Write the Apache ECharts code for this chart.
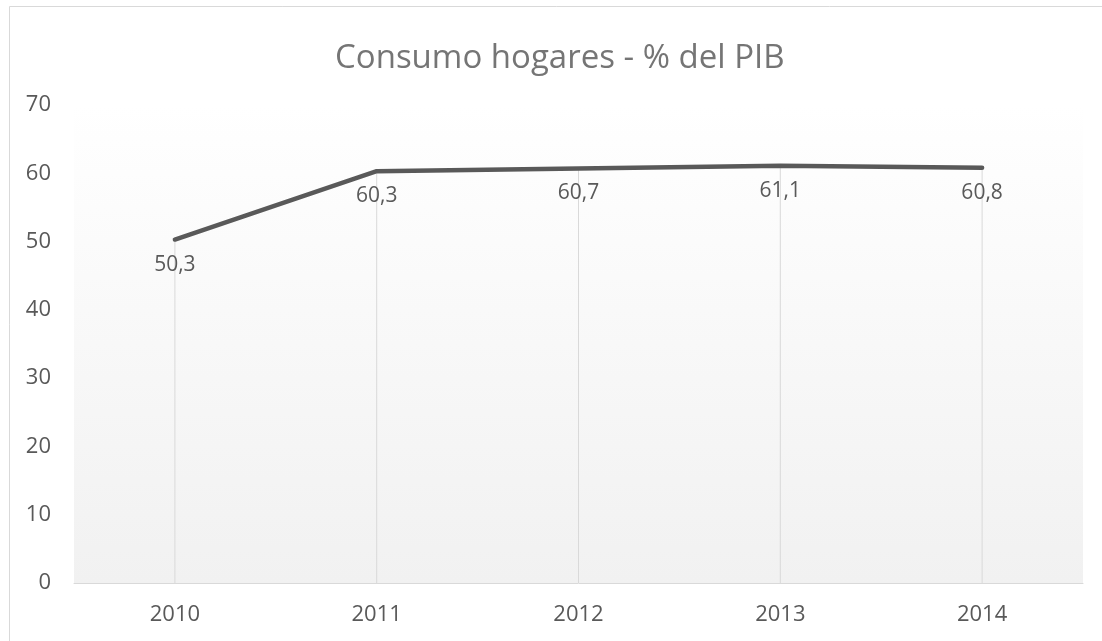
<!DOCTYPE html>
<html>
<head>
<meta charset="utf-8">
<script src="https://cdn.jsdelivr.net/npm/echarts@6/dist/echarts.min.js"></script>
<style>
  html, body { margin: 0; padding: 0; background: #fff; }
  #chart { width: 1102px; height: 641px; }
</style>
</head>
<body>
<div id="chart"></div>
<script>
const years = ["2010", "2011", "2012", "2013", "2014"];
const consumo = [50.3, 60.3, 60.7, 61.1, 60.8];
const yMin = 0;
const yMax = 70;
const yStep = 10;

const fontFam = "'Open Sans', 'Noto Sans', sans-serif";
const txt = "#595959";

const chart = echarts.init(document.getElementById("chart"));

// decimal comma, as in the original
const fmt = (v) => String(v).replace(".", ",");

chart.setOption({
  animation: false,
  backgroundColor: "#ffffff",
  title: {
    text: "Consumo hogares - % del PIB",
    left: 330,
    top: 37,
    textStyle: { fontFamily: fontFam, fontSize: 33, fontWeight: "normal", color: "#757575" },
  },
  graphic: [
    {
      type: "rect",
      shape: { x: 9.5, y: 6.5, width: 1200, height: 700 },
      style: { fill: "none", stroke: "#d9d9d9", lineWidth: 1 },
      silent: true,
    },
  ],
  grid: {
    left: 74,
    right: 19,
    top: 105,
    bottom: 58,
    show: true,
    borderWidth: 0,
    backgroundColor: new echarts.graphic.LinearGradient(0, 0, 0, 1, [
      { offset: 0, color: "#ffffff" },
      { offset: 1, color: "#f1f1f1" },
    ]),
  },
  xAxis: {
    type: "category",
    data: years,
    boundaryGap: true,
    axisLine: { lineStyle: { color: "#d9d9d9", width: 1 } },
    axisTick: { show: false },
    axisLabel: { fontFamily: fontFam, fontSize: 22, color: txt, margin: 21 },
    splitLine: { show: false },
  },
  yAxis: {
    type: "value",
    min: yMin,
    max: yMax,
    interval: yStep,
    axisLine: { show: false },
    axisTick: { show: false },
    splitLine: { show: false },
    axisLabel: { fontFamily: fontFam, fontSize: 22, color: txt, margin: 23 },
  },
  series: [
    {
      // drop lines from each point to the axis
      name: "drop",
      type: "bar",
      data: consumo,
      barWidth: 1,
      itemStyle: { color: "#d9d9d9" },
      silent: true,
      z: 1,
    },
    {
      name: "Consumo hogares",
      type: "line",
      data: consumo,
      showSymbol: true,
      symbol: "circle",
      symbolSize: 1,
      itemStyle: { color: "rgba(0,0,0,0)" },
      lineStyle: { color: "#595959", width: 4.5, cap: "round" },
      label: {
        show: true,
        position: "bottom",
        distance: 14,
        fontFamily: fontFam,
        fontSize: 21,
        color: txt,
        formatter: (p) => fmt(p.value),
      },
      z: 3,
    },
  ],
});
</script>
</body>
</html>
